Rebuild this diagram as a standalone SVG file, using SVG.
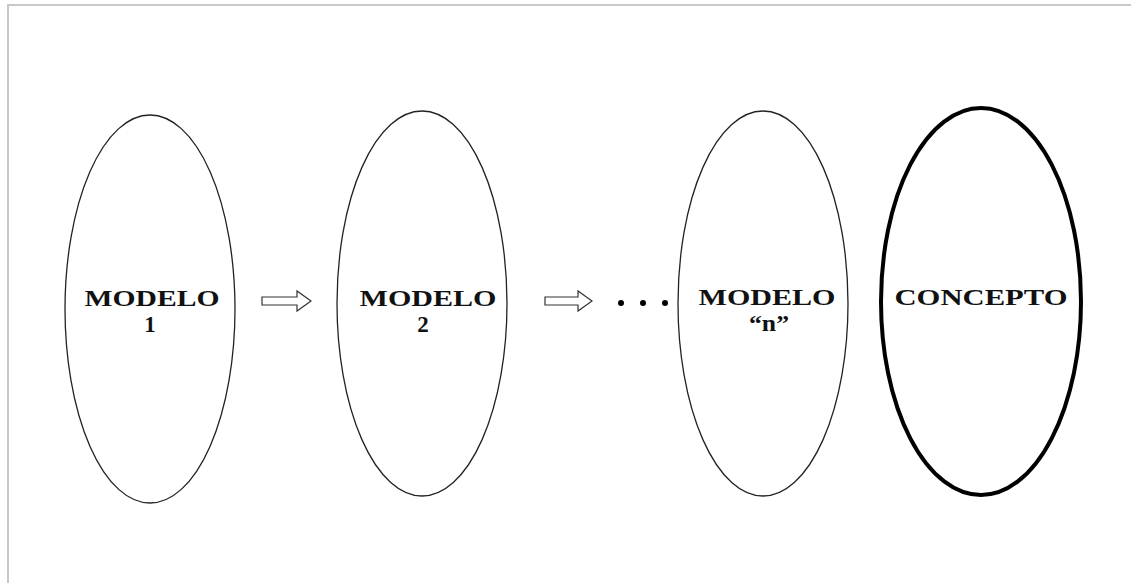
<svg xmlns="http://www.w3.org/2000/svg" width="1131" height="583" viewBox="0 0 1131 583">
  <style>
    .oval { fill: #ffffff; stroke: #222222; stroke-width: 1.3; }
    .oval-bold { fill: #ffffff; stroke: #000000; stroke-width: 4; }
    .label { font-family: "Liberation Serif", "Times New Roman", serif; font-weight: bold; font-size: 23px; fill: #111111; text-anchor: middle; }
    .arrow { fill: #ffffff; stroke: #333333; stroke-width: 1.2; stroke-linejoin: miter; }
    .dot { fill: #000000; }
    .frame { stroke: #c8c8c8; stroke-width: 2; fill: none; }
  </style>

  <rect width="1131" height="583" fill="#ffffff"/>
  <!-- frame edges along the top and left -->
  <path class="frame" d="M8,583 V5 H1131"/>

  <g id="modelo-1">
    <ellipse class="oval" cx="150" cy="309" rx="85" ry="194"/>
    <text class="label" x="152" y="306" textLength="135" lengthAdjust="spacingAndGlyphs">MODELO</text>
    <text class="label" x="150" y="332">1</text>
  </g>

  <g id="modelo-2">
    <ellipse class="oval" cx="422" cy="303.5" rx="85" ry="192.5"/>
    <text class="label" x="428" y="306" textLength="137" lengthAdjust="spacingAndGlyphs">MODELO</text>
    <text class="label" x="423" y="332">2</text>
  </g>

  <g id="modelo-n">
    <ellipse class="oval" cx="763" cy="303.5" rx="85" ry="192.5"/>
    <text class="label" x="767" y="305" textLength="137" lengthAdjust="spacingAndGlyphs">MODELO</text>
    <text class="label" x="769" y="331" textLength="40" lengthAdjust="spacingAndGlyphs">“n”</text>
  </g>

  <g id="concepto">
    <ellipse class="oval-bold" cx="981" cy="301.5" rx="100" ry="193.5"/>
    <text class="label" x="981" y="305" textLength="173" lengthAdjust="spacingAndGlyphs">CONCEPTO</text>
  </g>

  <g id="connectors">
    <path class="arrow" d="M262,297 H297 V291 L311,301 L297,311 V305 H262 Z"/>
    <path class="arrow" d="M545,297 H578 V291 L592,301 L578,311 V305 H545 Z"/>
    <circle class="dot" cx="621" cy="303" r="3"/>
    <circle class="dot" cx="643" cy="303" r="3"/>
    <circle class="dot" cx="665" cy="303" r="3"/>
  </g>
</svg>
